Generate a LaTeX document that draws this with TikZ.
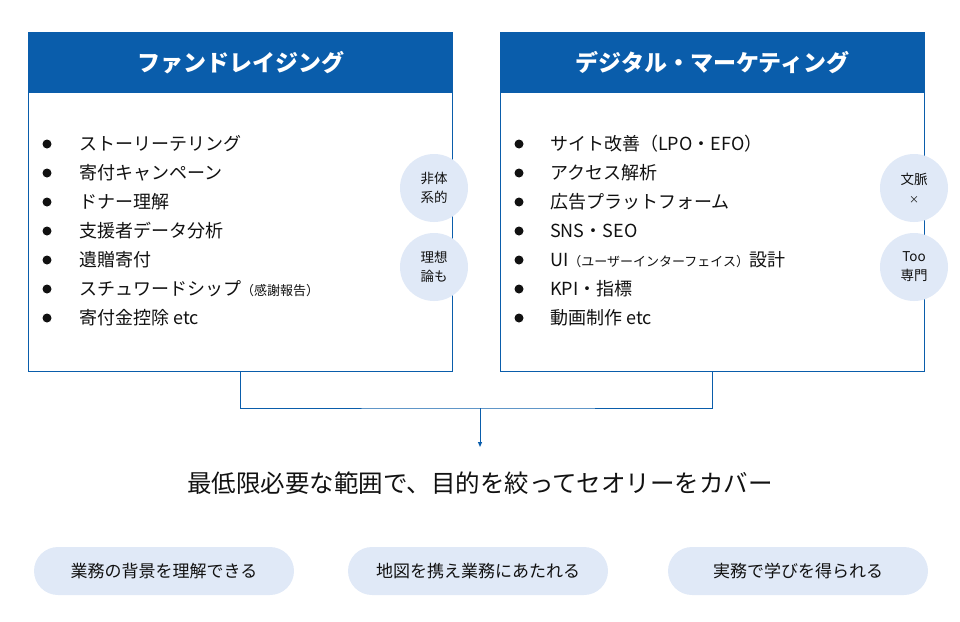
\documentclass[tikz,border=0pt]{standalone}
\usepackage{fontspec}
\setmainfont{Noto Sans CJK JP}
\usetikzlibrary{arrows.meta}
\definecolor{hblue}{HTML}{0A5DAB}
\definecolor{tagfill}{HTML}{E0E9F7}
\definecolor{ink}{HTML}{111111}
\tikzset{
  frame/.style={draw=hblue, line width=1pt, fill=white, minimum width=424pt, minimum height=339pt, anchor=north west, inner sep=0pt},
  hdr/.style={fill=hblue, draw=hblue, line width=1pt, minimum width=424pt, minimum height=60pt, anchor=north west, text=white, font=\fontsize{23}{27}\selectfont\bfseries},
  dot/.style={circle, fill=ink, inner sep=0pt, minimum size=9pt},
  item/.style={anchor=west, inner sep=0pt, text=ink, font=\fontsize{18}{22}\selectfont},
  tag/.style={circle, fill=tagfill, minimum size=68pt, inner sep=0pt, align=center, text=ink, font=\fontsize{13.5}{19}\selectfont},
  pill/.style={fill=tagfill, rounded corners=24pt, minimum width=260pt, minimum height=48pt, inner sep=0pt, text=ink, font=\fontsize{17}{20}\selectfont},
  conn/.style={draw=hblue, line width=1pt},
}
\newcommand{\smallpar}[1]{{\fontsize{13}{13}\selectfont #1}}
\begin{document}
\begin{tikzpicture}[x=1pt,y=-1pt]
\useasboundingbox (0,0) rectangle (960,621);
% boxes
\node[frame] (lbox) at (28,32) {};
\node[frame] (rbox) at (500,32) {};
\node[hdr] (lhead) at (28,32) {ファンドレイジング};
\node[hdr] (rhead) at (500,32) {デジタル・マーケティング};
% left items
\foreach \i/\t in {1/ストーリーテリング, 2/寄付キャンペーン, 3/ドナー理解, 4/支援者データ分析, 5/遺贈寄付, 6/{スチュワードシップ\smallpar{（感謝報告）}}, 7/寄付金控除 etc}{
  \node[dot] (lb\i) at (47,{144+29*(\i-1)}) {};
  \node[item] (lt\i) at (79,{144+29*(\i-1)}) {\t};
}
% right items
\foreach \i/\t in {1/サイト改善（LPO・EFO）, 2/アクセス解析, 3/広告プラットフォーム, 4/SNS・SEO, 5/{UI\smallpar{（ユーザーインターフェイス）}設計}, 6/KPI・指標, 7/動画制作 etc}{
  \node[dot] (rb\i) at (519,{144+29*(\i-1)}) {};
  \node[item] (rt\i) at (550,{144+29*(\i-1)}) {\t};
}
% tags
\node[tag] (t1) at (434,188) {非体\\系的};
\node[tag] (t2) at (434,267) {理想\\論も};
\node[tag] (t3) at (914,188) {文脈\\{\fontsize{10}{12}\selectfont ×}};
\node[tag] (t4) at (914,267) {Too\\専門};
% connectors
\coordinate (j) at (480,408);
\coordinate (ah) at (480,447);
\draw[conn] (lbox.south) |- (j) -| (rbox.south);
\draw[conn, -{Triangle[width=4pt,length=5pt]}] (j) -- (ah);
% main text
\node[text=ink, font=\fontsize{24.5}{28}\selectfont] (main) at (480,483) {最低限必要な範囲で、目的を絞ってセオリーをカバー};
% pills
\node[pill] (p1) at (164,571) {業務の背景を理解できる};
\node[pill] (p2) at (478,571) {地図を携え業務にあたれる};
\node[pill] (p3) at (798,571) {実務で学びを得られる};
\end{tikzpicture}
\end{document}
